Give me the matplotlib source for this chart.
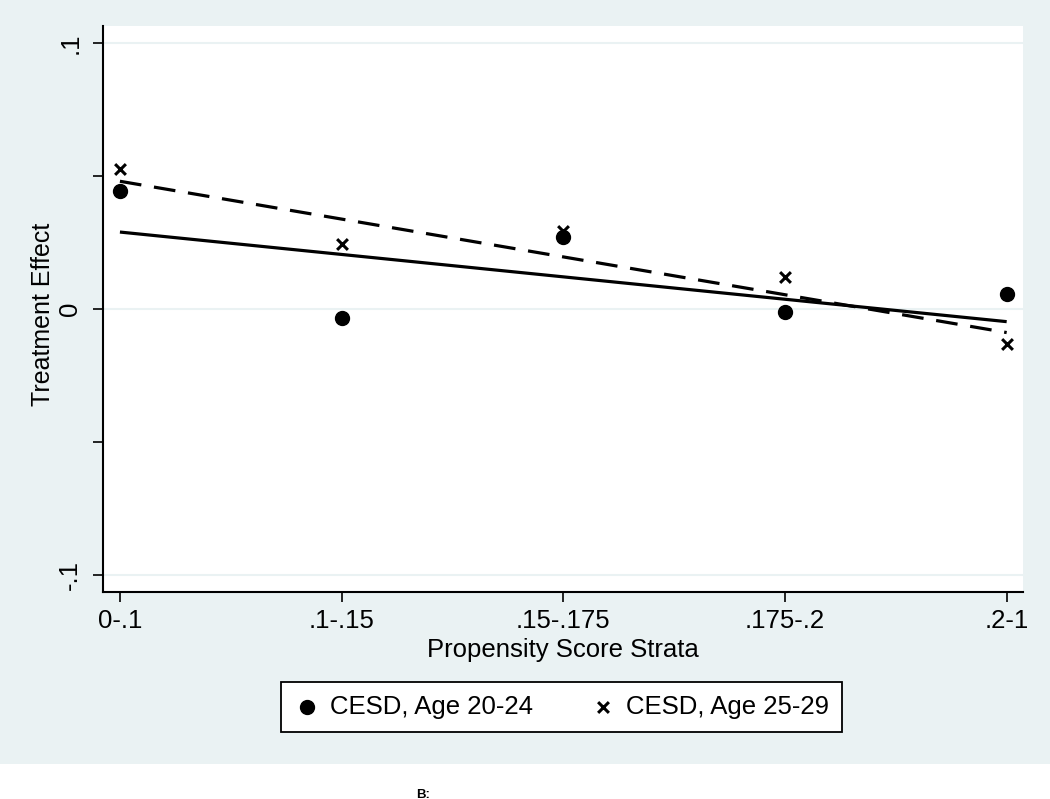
import matplotlib
matplotlib.use("Agg")
import matplotlib.pyplot as plt
from matplotlib.patches import Rectangle
import numpy as np

# ---- data ----
strata = ["0-.1", ".1-.15", ".15-.175", ".175-.2", ".2-1"]
cesd_20_24 = [0.0446, -0.0034, 0.0272, -0.0011, 0.0056]
cesd_25_29 = [0.0528, 0.0246, 0.0293, 0.0120, -0.0131]
# fitted-line values at first and last stratum
fit_20_24 = [0.0290, -0.0047]
fit_25_29 = [0.0481, -0.0088]
yticks = [-0.1, -0.05, 0.0, 0.05, 0.1]
ytick_labels = ["-.1", "", "0", "", ".1"]
legend_labels = ["CESD, Age 20-24", "CESD, Age 25-29"]

plt.rcParams['font.family'] = ['Liberation Sans', 'DejaVu Sans']
W, H = 1050, 799
bg = '#EAF2F3'
fig = plt.figure(figsize=(W / 100, H / 100), dpi=100, facecolor=bg)
fig.patches.append(Rectangle((0, 0), 1, (H - 764) / H, transform=fig.transFigure,
                             facecolor='white', edgecolor='none', zorder=0))

left, right, top, bottom = 103.3, 1023.3, 26, 592.3
ax = fig.add_axes([left / W, (H - bottom) / H, (right - left) / W, (bottom - top) / H])
ax.set_facecolor('white')

x = np.arange(1, len(strata) + 1)
for yv in [-0.1, 0.0, 0.1]:
    ax.axhline(yv, color=bg, lw=1.5, zorder=1)

ax.scatter(x, cesd_20_24, s=13.5 ** 2 * 0.55, marker='o', color='black', zorder=3,
           label=legend_labels[0])
ax.scatter(x, cesd_25_29, s=60, marker='x', color='black', linewidths=2.2, zorder=3,
           label=legend_labels[1])
ax.plot([x[0], x[-1]], fit_20_24, color='black', lw=2.3, zorder=2, solid_capstyle='butt')
ax.plot([x[0], x[-1]], fit_25_29, color='black', lw=2.3, zorder=2, dashes=(6.8, 4),
        dash_capstyle='butt')

ax.set_xlim(0.925, 5.075)
ax.set_ylim(-0.1065, 0.1065)
ax.set_xticks(x)
ax.set_xticklabels(strata, fontsize=18.5)
ax.set_yticks(yticks)
ax.set_yticklabels(ytick_labels, fontsize=18.5, rotation=90, va='center')
ax.tick_params(axis='both', length=7.2, width=1.2, color='black')
ax.tick_params(axis='x', pad=5)
ax.tick_params(axis='y', pad=8)
for s in ['top', 'right']:
    ax.spines[s].set_visible(False)
for s in ['left', 'bottom']:
    ax.spines[s].set_linewidth(1.5)

fig.text(43 / W, 1 - 314 / H, "Treatment Effect", rotation=90, ha='center', va='center',
         fontsize=18)
fig.text(563 / W, 1 - 650 / H, "Propensity Score Strata", ha='center', va='center',
         fontsize=18.5)

leg = fig.legend(loc='center', bbox_to_anchor=(561.5 / W, 1 - 707 / H), ncol=2,
                 fontsize=18.5, frameon=True, fancybox=False, edgecolor='black',
                 framealpha=1, facecolor='white', handletextpad=0.4, columnspacing=2.2,
                 borderpad=0.5, handlelength=1.0)
leg.get_frame().set_linewidth(1.3)

fig.text(423 / W, 4 / H, "B:", ha='center', va='center', fontsize=9.5, fontweight='bold')

fig.savefig("out.png", dpi=100, facecolor=bg)
